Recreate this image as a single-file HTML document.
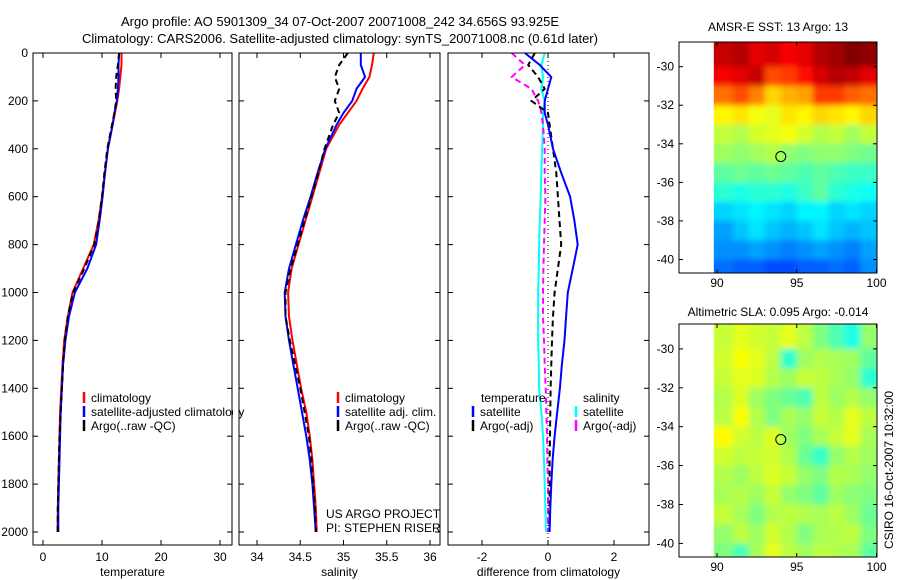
<!DOCTYPE html>
<html><head><meta charset="utf-8"><style>
html,body{margin:0;padding:0;background:#fff;}
svg{display:block;font-family:"Liberation Sans",sans-serif;}
</style></head><body>
<svg id="fig" width="900" height="580" viewBox="0 0 900 580" xmlns="http://www.w3.org/2000/svg">
<defs><filter id="soft" x="0" y="0" width="1" height="1"><feGaussianBlur stdDeviation="3"/></filter></defs>
<rect x="0" y="0" width="900" height="580" fill="#fff"/>
<text x="340" y="26" font-size="13" text-anchor="middle">Argo profile: AO 5901309_34 07-Oct-2007 20071008_242 34.656S 93.925E</text>
<text x="340" y="43" font-size="13" text-anchor="middle">Climatology: CARS2006. Satellite-adjusted climatology: synTS_20071008.nc (0.61d later)</text>
<g id="plots"></g>
<text transform="translate(893,470) rotate(-90)" font-size="12" text-anchor="middle">CSIRO 16-Oct-2007 10:32:00</text>
</svg>
<script>
const depths=[0,50,100,150,200,250,300,400,500,600,700,800,900,1000,1100,1200,1300,1400,1500,1600,1700,1800,1900,2000];
const tempClim=[13.3,13.3,13.1,12.9,12.6,12.2,11.8,11.0,10.5,10.0,9.4,8.6,6.8,5.0,4.2,3.6,3.3,3.1,2.9,2.8,2.7,2.6,2.5,2.45];
const tempSat=[12.9,12.8,12.8,12.7,12.5,12.1,11.8,11.0,10.5,10.1,9.6,9.0,7.5,5.4,4.4,3.8,3.4,3.2,3.0,2.9,2.8,2.7,2.6,2.6];
const tempArgo=[12.9,12.7,12.4,12.3,12.4,12.1,11.7,10.9,10.4,10.0,9.5,8.7,7.0,5.1,4.2,3.7,3.4,3.2,3.0,2.8,2.7,2.6,2.5,2.5];
const salClim=[35.35,35.33,35.3,35.22,35.15,35.05,34.95,34.8,34.72,34.64,34.56,34.48,34.4,34.36,34.37,34.41,34.46,34.51,34.57,34.61,34.64,34.66,34.68,34.69];
const salSat=[35.2,35.2,35.25,35.15,35.1,35.0,34.92,34.79,34.7,34.62,34.53,34.45,34.37,34.32,34.33,34.37,34.42,34.47,34.52,34.57,34.61,34.64,34.66,34.68];
const salArgo=[35.05,34.95,34.9,34.95,34.9,34.95,34.88,34.78,34.71,34.63,34.55,34.47,34.39,34.33,34.33,34.38,34.44,34.5,34.55,34.6,34.63,34.65,34.67,34.68];
const dTempSat=[-0.7,-0.25,0.1,0.0,-0.1,-0.1,0.0,0.15,0.4,0.67,0.8,0.9,0.75,0.6,0.55,0.5,0.42,0.36,0.28,0.2,0.14,0.1,0.07,0.05];
const dTempArgo=[-0.4,-0.6,-0.3,-0.1,-0.5,0.0,0.05,0.15,0.25,0.3,0.35,0.4,0.3,0.2,0.15,0.12,0.1,0.08,0.07,0.06,0.05,0.05,0.05,0.05];
const dSalSat=[-0.1,-0.2,-0.15,-0.2,-0.1,-0.15,-0.15,-0.18,-0.2,-0.22,-0.25,-0.27,-0.28,-0.3,-0.3,-0.3,-0.28,-0.27,-0.2,-0.15,-0.12,-0.1,-0.08,-0.06];
const dSalArgo=[-1.1,-0.7,-1.1,-0.5,-0.3,-0.2,-0.15,-0.1,-0.1,-0.08,-0.1,-0.12,-0.14,-0.15,-0.15,-0.12,-0.1,-0.07,-0.05,-0.03,-0.02,0,0,0];
const depthTicks=[0,200,400,600,800,1000,1200,1400,1600,1800,2000];
const tempTicks=[0,10,20,30];
const salTicks=[34,34.5,35,35.5,36];
const diffTicks=[-2,0,2];
const lonEdges=[89.8,91,92,93,94,95,96,97,98,99,100];
const latEdges=[-28.7,-30,-31,-32,-33,-34,-35,-36,-37,-38,-39,-40,-40.7];
const lonTicks=[90,95,100];
const latTicks=[-30,-32,-34,-36,-38,-40];
const sstGrid=[
[15.6,15.7,15.4,15.5,15.3,15.4,15.7,15.8,16,15.9],
[15.3,15.4,15.6,14.8,14.9,15.2,15.5,15.7,15.6,15.4],
[14.6,14.8,14.5,14.0,14.2,14.3,14.9,14.9,14.7,14.6],
[13.8,13.9,13.7,13.6,13.9,13.8,14.0,13.9,13.8,14.0],
[13.4,13.3,13.5,13.6,13.7,13.5,13.3,13.4,13.2,13.4],
[13.2,13.1,13.2,13.3,13.1,13.0,13.1,13.1,13.0,12.9],
[12.8,12.9,12.8,12.9,12.8,12.7,12.8,12.7,12.6,12.6],
[12.5,12.4,12.5,12.5,12.4,12.6,12.8,12.5,12.4,12.3],
[12.0,12.1,12.2,12.1,12.0,12.2,12.2,12.0,12.1,12.0],
[11.7,11.9,12.1,11.9,11.8,11.9,12.1,11.9,11.8,11.9],
[11.6,11.6,11.7,11.6,11.5,11.6,11.7,11.6,11.5,11.7],
[11.4,11.3,11.3,11.2,11.2,11.3,11.3,11.4,11.3,11.6]];
const slaGrid=[
[0.07,0.1,0.08,0.07,0.1,0.06,0.0,-0.05,-0.1,0.02],
[0.08,0.12,0.1,0.06,-0.08,0.03,0.05,0.04,0.03,-0.03],
[0.07,0.1,0.09,0.05,0.03,0.07,0.06,0.04,0.02,-0.08],
[0.05,0.09,0.03,0.0,-0.02,-0.05,0.06,0.03,0.05,0.02],
[0.06,0.12,0.05,0.0,0.04,0.02,0.07,0.05,0.1,0.06],
[0.13,0.08,0.06,0.09,0.03,0.0,0.04,0.07,0.1,0.04],
[0.08,0.06,0.07,0.08,0.05,-0.02,-0.07,0.02,0.05,0.03],
[0.05,0.03,0.06,0.09,0.07,0.02,0.0,0.05,0.04,0.02],
[0.04,0.05,0.03,0.07,0.02,0.0,-0.03,0.03,0.01,0.0],
[0.07,0.04,0.0,0.05,0.06,0.05,0.04,0.06,0.03,-0.02],
[0.02,0.06,0.03,0.08,0.05,0.0,0.04,0.05,0.06,0.0],
[0.0,-0.05,0.04,0.1,0.06,0.03,0.06,0.05,0.04,-0.03]];
const argoLon=94.0, argoLat=-34.66;

const NS="http://www.w3.org/2000/svg";
const root=document.getElementById('plots');
function mk(tag,attrs,parent){const e=document.createElementNS(NS,tag);for(const k in attrs)e.setAttribute(k,attrs[k]);(parent||root).appendChild(e);return e;}
function txt(x,y,s,size,anchor,parent){const t=mk('text',{x:x,y:y,'font-size':size,'text-anchor':anchor||'start'},parent);t.textContent=s;return t;}
function lin(d0,d1,r0,r1){return v=>r0+(v-d0)*(r1-r0)/(d1-d0);}

const yTop=53,yBot=545;
const yD=lin(0,2000,53,532);
const panels=[
 {name:'temperature',x0:33,x1:232,xs:lin(0,30,43,220),ticks:tempTicks,label:'temperature',
  series:[[tempClim,'#ff0000',null],[tempSat,'#0000ff',null],[tempArgo,'#000000','6,4']]},
 {name:'salinity',x0:239,x1:440,xs:lin(34,36,257,430),ticks:salTicks,label:'salinity',
  series:[[salClim,'#ff0000',null],[salSat,'#0000ff',null],[salArgo,'#000000','6,4']]},
 {name:'difference',x0:448,x1:649,xs:lin(-2,2,482,614),ticks:diffTicks,label:'difference from climatology',
  series:[[dSalSat,'#00ffff',null],[dSalArgo,'#ff00ff','6,4'],[dTempArgo,'#000000','6,4'],[dTempSat,'#0000ff',null]]}
];
panels.forEach((p,pi)=>{
  const g=mk('g',{});
  
  
  mk('rect',{x:p.x0,y:yTop,width:p.x1-p.x0,height:yBot-yTop,fill:'#fff'},g);
  const cid='clip'+pi;
  const cp=mk('clipPath',{id:cid},g);mk('rect',{x:p.x0,y:yTop,width:p.x1-p.x0,height:yBot-yTop},cp);
  if(pi===2){const zl=mk('line',{x1:p.xs(0),y1:yTop,x2:p.xs(0),y2:yBot,stroke:'#000','stroke-dasharray':'1,3','stroke-width':1},g);
    
    }
  p.series.forEach((s,si)=>{
    const pts=s[0].map((v,i)=>p.xs(v).toFixed(1)+','+yD(depths[i]).toFixed(1)).join(' ');
    const pl=mk('polyline',{points:pts,fill:'none',stroke:s[1],'stroke-width':2,'clip-path':'url(#'+cid+')'},g);
    if(s[2])pl.setAttribute('stroke-dasharray',s[2]);
    
    
  });
  mk('rect',{x:p.x0,y:yTop,width:p.x1-p.x0,height:yBot-yTop,fill:'none',stroke:'#000','stroke-width':1},g);
  depthTicks.forEach(d=>{const y=yD(d);
    mk('line',{x1:p.x0,y1:y,x2:p.x0+5,y2:y,stroke:'#000'},g);
    mk('line',{x1:p.x1,y1:y,x2:p.x1-5,y2:y,stroke:'#000'},g);
    if(pi===0){const t=txt(28,y+4,String(d),12,'end',g);
      
      }
  });
  p.ticks.forEach(v=>{const x=p.xs(v);
    mk('line',{x1:x,y1:yTop,x2:x,y2:yTop+5,stroke:'#000'},g);
    mk('line',{x1:x,y1:yBot,x2:x,y2:yBot-5,stroke:'#000'},g);
    const t=txt(x,561,String(v),12,'middle',g);
    
    
  });
  const xl=txt((p.x0+p.x1)/2,576,p.label,12,'middle',g);
  
  
});
function legEntry(x,y,color,dashed,label,name){
  const g=mk('g',{});
  
  
  mk('line',{x1:x,y1:y-10,x2:x,y2:y+1,stroke:color,'stroke-width':2.5},g);
  txt(x+7,y,label,12,'start',g);
}
legEntry(84,402,'#ff0000',0,'climatology','legend-climatology-t');
legEntry(84,416,'#0000ff',0,'satellite-adjusted climatology','legend-satellite-t');
legEntry(84,430,'#000000',1,'Argo(..raw -QC)','legend-argo-t');
mk('rect',{x:233,y:380,width:5.5,height:60,fill:'#fff'});
mk('line',{x1:239,y1:380,x2:239,y2:440,stroke:'#000'});
legEntry(338,402,'#ff0000',0,'climatology','legend-climatology-s');
legEntry(338,416,'#0000ff',0,'satellite adj. clim.','legend-satellite-s');
legEntry(338,430,'#000000',1,'Argo(..raw -QC)','legend-argo-s');
{const t=txt(326,518,'US ARGO PROJECT',12,'start');
 const t2=txt(326,532,'PI: STEPHEN RISER',12,'start');}
{const t=txt(481,402,'temperature',12,'start');
 const t2=txt(583,402,'salinity',12,'start');}
legEntry(473,416,'#0000ff',0,'satellite','legend-temp-satellite');
legEntry(473,430,'#000000',1,'Argo(-adj)','legend-temp-argo');
legEntry(576,416,'#00ffff',0,'satellite','legend-sal-satellite');
legEntry(576,430,'#ff00ff',1,'Argo(-adj)','legend-sal-argo');

function jet(v){v=Math.max(0,Math.min(1,v));const c=x=>Math.round(255*Math.max(0,Math.min(1,1.5-Math.abs(x))));
  return 'rgb('+c(4*v-3)+','+c(4*v-2)+','+c(4*v-1)+')';}
function drawMap(name,title,grid,cmin,cmax,top,bot,titleY){
  const g=mk('g',{});
  
  
  const x0=679,x1=877;
  const xs=lin(90,100,717,876.5);
  const yl=lin(-28.72,-40.7,top,bot);
  const cid='mclip'+name;
  const cp=mk('clipPath',{id:cid},g);
  mk('rect',{x:xs(lonEdges[0]),y:top,width:x1-xs(lonEdges[0]),height:bot-top},cp);
  const cells=mk('g',{'clip-path':'url(#'+cid+')'},g);
  const inner=mk('g',{filter:'url(#soft)'},cells);
  grid.forEach((row,r)=>row.forEach((v,c)=>{
    let xa=xs(lonEdges[c]),xb=xs(lonEdges[c+1]),ya=yl(latEdges[r]),yb=yl(latEdges[r+1]);
    if(c===0)xa-=8; if(c===row.length-1)xb+=8; if(r===0)ya-=8; if(r===grid.length-1)yb+=8;
    const cell=mk('rect',{x:xa.toFixed(1),y:ya.toFixed(1),width:(xb-xa+0.5).toFixed(1),height:(yb-ya+0.5).toFixed(1),fill:jet((v-cmin)/(cmax-cmin))},inner);
    
    
  }));
  mk('rect',{x:x0,y:top,width:x1-x0,height:bot-top,fill:'none',stroke:'#000'},g);
  latTicks.forEach(l=>{const y=yl(l);
    mk('line',{x1:x0,y1:y,x2:x0+4,y2:y,stroke:'#000'},g);
    mk('line',{x1:x1,y1:y,x2:x1-4,y2:y,stroke:'#000'},g);
    const t=txt(674,y+4,String(l),12,'end',g);
    
    
  });
  lonTicks.forEach(l=>{const x=xs(l);
    mk('line',{x1:x,y1:top,x2:x,y2:top+4,stroke:'#000'},g);
    mk('line',{x1:x,y1:bot,x2:x,y2:bot-4,stroke:'#000'},g);
    const t=txt(x,bot+14,String(l),12,'middle',g);
    
    
  });
  const m=mk('circle',{cx:xs(argoLon),cy:yl(argoLat),r:5,fill:'none',stroke:'#000'},g);
  
  
  const t=txt(778,titleY,title,12,'middle',g);
  
  
}
drawMap('sst-map','AMSR-E SST: 13 Argo: 13',sstGrid,10,16,42,273,31);
drawMap('sla-map','Altimetric SLA: 0.095 Argo: -0.014',slaGrid,-0.5,0.5,324,557,316);
</script>
</body></html>
